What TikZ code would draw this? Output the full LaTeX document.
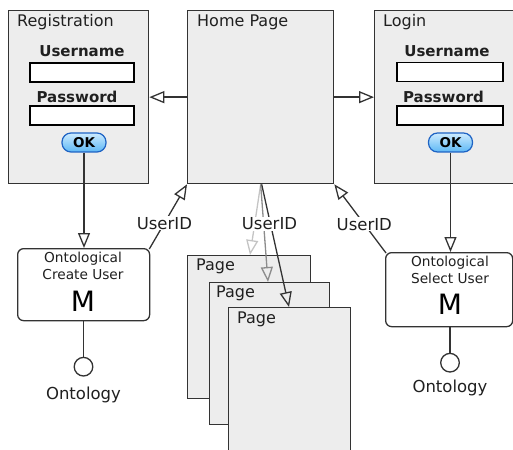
\documentclass[tikz,border=0pt]{standalone}
\usepackage{fontspec}
\setmainfont{DejaVu Sans}
\usetikzlibrary{arrows.meta}
\definecolor{boxfill}{HTML}{EDEDED}
\definecolor{boxline}{HTML}{333333}
\definecolor{okfill}{HTML}{5DB8F5}
\definecolor{oktop}{HTML}{CDEBFF}
\definecolor{okline}{HTML}{1E63C4}
\definecolor{txt}{HTML}{202020}
\definecolor{lightarr}{HTML}{C4C4C4}
\definecolor{midarr}{HTML}{8C8C8C}
\begin{document}
\begin{tikzpicture}[x=1pt,y=-1pt,
  screen/.style={draw=boxline, fill=boxfill, line width=1.3pt, anchor=north west, inner sep=0pt},
  title/.style={anchor=base west, inner sep=0pt, text=txt, font=\fontsize{16}{18}\selectfont},
  flabel/.style={anchor=base, inner sep=0pt, text=txt, font=\bfseries\fontsize{15}{17}\selectfont},
  field/.style={draw=black, fill=white, line width=1.3pt, minimum height=19pt, inner sep=0pt},
  okbtn/.style={draw=okline, line width=1.2pt, rounded corners=9pt, top color=oktop, bottom color=okfill,
                minimum width=44pt, minimum height=19pt, inner sep=0pt, font=\bfseries\fontsize{13.5}{15}\selectfont},
  modbox/.style={draw=boxline, fill=white, line width=1.3pt, rounded corners=6pt, anchor=north west, inner sep=0pt},
  modtxt/.style={anchor=base, inner sep=0pt, text=txt, font=\fontsize{13.7}{15}\selectfont},
  bigm/.style={anchor=base, inner sep=0pt, text=black, font=\fontsize{28}{30}\selectfont},
  iface/.style={circle, draw=boxline, fill=white, line width=1.3pt, minimum size=18.6pt, inner sep=0pt},
  ontol/.style={anchor=base, inner sep=0pt, text=txt, font=\fontsize{16.5}{18}\selectfont},
  plain/.style={draw=boxline, line width=1.3pt},
  arr/.style={draw=boxline, line width=1.3pt, -{Triangle[open, length=15pt, width=12pt, line width=1.3pt]}},
  lbl/.style={fill=white, inner sep=1pt, text=txt, font=\fontsize{16.5}{18}\selectfont},
]
\useasboundingbox (0,0) rectangle (513,449);

% ---------- Registration ----------
\node[screen, minimum width=140pt, minimum height=173pt] (reg) at (8,10) {};
\node[title] (regt) at (17,27) {Registration};
\node[flabel] (regul) at (82,57) {Username};
\node[field, minimum width=104pt] (reguf) at (82,72.5) {};
\node[flabel] (regpl) at (77,103) {Password};
\node[field, minimum width=104pt] (regpf) at (82,115.5) {};
\node[okbtn] (regok) at (84,142.5) {OK};

% ---------- Home Page ----------
\node[screen, minimum width=146pt, minimum height=173pt] (home) at (187,10) {};
\node[title] (homet) at (197,27) {Home Page};

% ---------- Login ----------
\node[screen, minimum width=139pt, minimum height=173pt] (login) at (374,10) {};
\node[title] (logint) at (383,27) {Login};
\node[flabel] (logul) at (447,57) {Username};
\node[field, minimum width=106pt] (loguf) at (450,72) {};
\node[flabel] (logpl) at (443.5,103) {Password};
\node[field, minimum width=106pt] (logpf) at (450,115.5) {};
\node[okbtn] (logok) at (450.5,142.5) {OK};

% ---------- Pages ----------
\node[screen, minimum width=123pt, minimum height=143pt] (p1) at (187,255) {};
\node[title] (p1t) at (196,270.7) {Page};
\node[screen, minimum width=120pt, minimum height=142pt] (p2) at (209,282) {};
\node[title] (p2t) at (216,297.7) {Page};
\node[screen, minimum width=122pt, minimum height=150pt] (p3) at (228,307) {};
\node[title] (p3t) at (237,323.3) {Page};

% ---------- Create User ----------
\node[modbox, minimum width=132pt, minimum height=72pt] (cu) at (17,248) {};
\node[modtxt] (cut1) at (83,262) {Ontological};
\node[modtxt] (cut2) at (83,279) {Create User};
\node[bigm] (cum) at (83,311.7) {M};
\node[iface] (cuo) at (83.5,366.7) {};
\node[ontol] (cuot) at (83.5,399) {Ontology};

% ---------- Select User ----------
\node[modbox, minimum width=127pt, minimum height=74pt] (su) at (385,252) {};
\node[modtxt] (sut1) at (450,266.7) {Ontological};
\node[modtxt] (sut2) at (450,283.3) {Select User};
\node[bigm] (sum) at (450,314) {M};
\node[iface] (suo) at (450,362.7) {};
\node[ontol] (suot) at (450,392.7) {Ontology};

% ---------- Connectors ----------
\draw[arr] (home.west) -- (reg.east);
\draw[arr] (home.east) -- (login.west);
\draw[arr] (regok.south) -- (regok.south |- cu.north);
\draw[arr] (logok.south) -- (logok.south |- su.north);
\draw[plain] (cu.south -| cuo) -- (cuo.north);
\draw[plain] (su.south -| suo) -- (suo.north);

\draw[arr] ([xshift=-1pt,yshift=-1pt]cu.north east) -- node[lbl, pos=0.4] (uid1) {UserID} (home.south west);
\draw[arr] ([xshift=1pt,yshift=-1pt]su.north west) -- node[lbl, pos=0.42] (uid3) {UserID} (home.south east);

\draw[arr, draw=lightarr] (home.south) -- (250,0 |- p1.north);
\draw[arr, draw=midarr] (home.south) -- (268,0 |- p2.north);
\draw[arr] ([xshift=1pt]home.south) -- (289,0 |- p3.north);
\node[lbl] (uid2) at (269.5,224) {UserID};
\end{tikzpicture}
\end{document}
